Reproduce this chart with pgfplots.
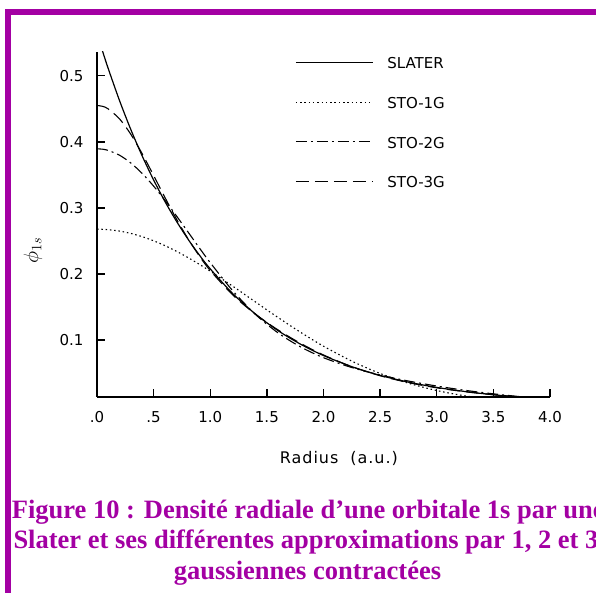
\documentclass[border=0pt]{standalone}
\usepackage{pgfplots}
\usepackage{pgfplotstable}
\pgfplotsset{compat=1.18}
\usepackage{fontspec}
\setmainfont{Liberation Serif}
\newfontfamily\tickfont{DejaVu Sans}
\newfontfamily\capfont{Liberation Serif}
\definecolor{framepurple}{RGB}{163,0,163}

\pgfplotstableread{
r sl g1 g2 g3
0 .5642 .2677 .3894 .4550
0.05 .5367 .2675 .3888 .4537
0.1 .5105 .2669 .3869 .4497
0.2 .4619 .2648 .3796 .4345
0.3 .4180 .2612 .3677 .4110
0.4 .3782 .2563 .3519 .3816
0.5 .3422 .2501 .3329 .3490
0.6 .3096 .2428 .3114 .3157
0.7 .2802 .2344 .2882 .2836
0.8 .2535 .2250 .2643 .2542
0.9 .2294 .2149 .2403 .2280
1.0 .2076 .2041 .2170 .2051
1.2 .1699 .1812 .1742 .1679
1.4 .1391 .1574 .1385 .1389
1.6 .1139 .1338 .1105 .1150
1.8 .0933 .1113 .0892 .0946
2.0 .0764 .0905 .0731 .0772
2.25 .0595 .0679 .0582 .0596
2.5 .0463 .0492 .0469 .0458
2.75 .0361 .0345 .0378 .0354
3.0 .0281 .0234 .0302 .0275
3.25 .0219 .0153 .0237 .0216
3.5 .0170 .0097 .0184 .0171
3.75 .0133 .0059 .0139 .0135
4.0 .0103 .0035 .0104 .0107
}\orbdata

\begin{document}
\begin{tikzpicture}[x=1pt,y=1pt]
\useasboundingbox (0,0) rectangle (596,593);
\begin{scope}
\clip (0,0) rectangle (596,593);
\draw[framepurple, line width=6pt] (8,-40) -- (8,580.5) -- (660,580.5);
\node[anchor=base west, inner sep=0pt, text=framepurple, font=\capfont\bfseries\fontsize{26.5}{26.5}\selectfont] at (11.7,74) {Figure 10 : Densité radiale d’une orbitale 1s par une};
\node[anchor=base west, inner sep=0pt, text=framepurple, font=\capfont\bfseries\fontsize{26.5}{26.5}\selectfont] at (13.3,44) {Slater et ses différentes approximations par 1, 2 et 3};
\node[anchor=base, inner sep=0pt, text=framepurple, font=\capfont\bfseries\fontsize{26.5}{26.5}\selectfont] at (307.5,13) {gaussiennes contractées};
\end{scope}
\node[rotate=90, inner sep=0pt, font=\fontsize{20}{20}\selectfont] at (33,343) {$\phi_{1s}$};
\begin{axis}[
  at={(97pt,196pt)}, anchor=south west,
  scale only axis, width=453pt, height=345pt,
  axis lines=left,
  axis line style={-, line width=1.6pt},
  xmin=0, xmax=4, ymin=0.0136, ymax=0.536,
  xtick={0,0.5,1,1.5,2,2.5,3,3.5,4},
  xticklabels={.0,.5,1.0,1.5,2.0,2.5,3.0,3.5,4.0},
  ytick={0.1,0.2,0.3,0.4,0.5},
  yticklabels={0.1,0.2,0.3,0.4,0.5},
  tick align=inside, major tick length=8pt,
  tick style={line width=1.4pt, black},
  tick label style={font=\tickfont\fontsize{15}{15}\selectfont},
  xticklabel style={yshift=-11pt},
  yticklabel style={xshift=-10pt},
  xlabel={Radius\ \ (a.u.)},
  x label style={at={(rel axis cs:0.534,0)}, anchor=center, yshift=-61pt, font=\tickfont\fontsize{16}{16}\selectfont\addfontfeature{LetterSpace=6}},
  legend style={at={(rel axis cs:0.437,0.984)}, anchor=north west, draw=none, fill=none, inner sep=0pt,
    row sep=27pt, font=\tickfont\fontsize{15}{15}\selectfont, nodes={inner sep=0pt},
    /tikz/every odd column/.append style={column sep=14pt}},
  legend cell align=left,
  legend image code/.code={\draw[#1] (0pt,1.5pt) -- (77pt,1.5pt);},
]
\addplot[black, line width=1.2pt, smooth] table[x=r, y=sl] {\orbdata};
\addlegendentry{SLATER}
\addplot[black, line width=1.1pt, smooth, dash pattern=on 1.5pt off 2.8pt] table[x=r, y=g1] {\orbdata};
\addlegendentry{STO-1G}
\addplot[black, line width=1.1pt, smooth, dash pattern=on 11pt off 4pt on 2pt off 4pt] table[x=r, y=g2] {\orbdata};
\addlegendentry{STO-2G}
\addplot[black, line width=1.1pt, smooth, dash pattern=on 13pt off 6pt] table[x=r, y=g3] {\orbdata};
\addlegendentry{STO-3G}
\end{axis}
\end{tikzpicture}
\end{document}
